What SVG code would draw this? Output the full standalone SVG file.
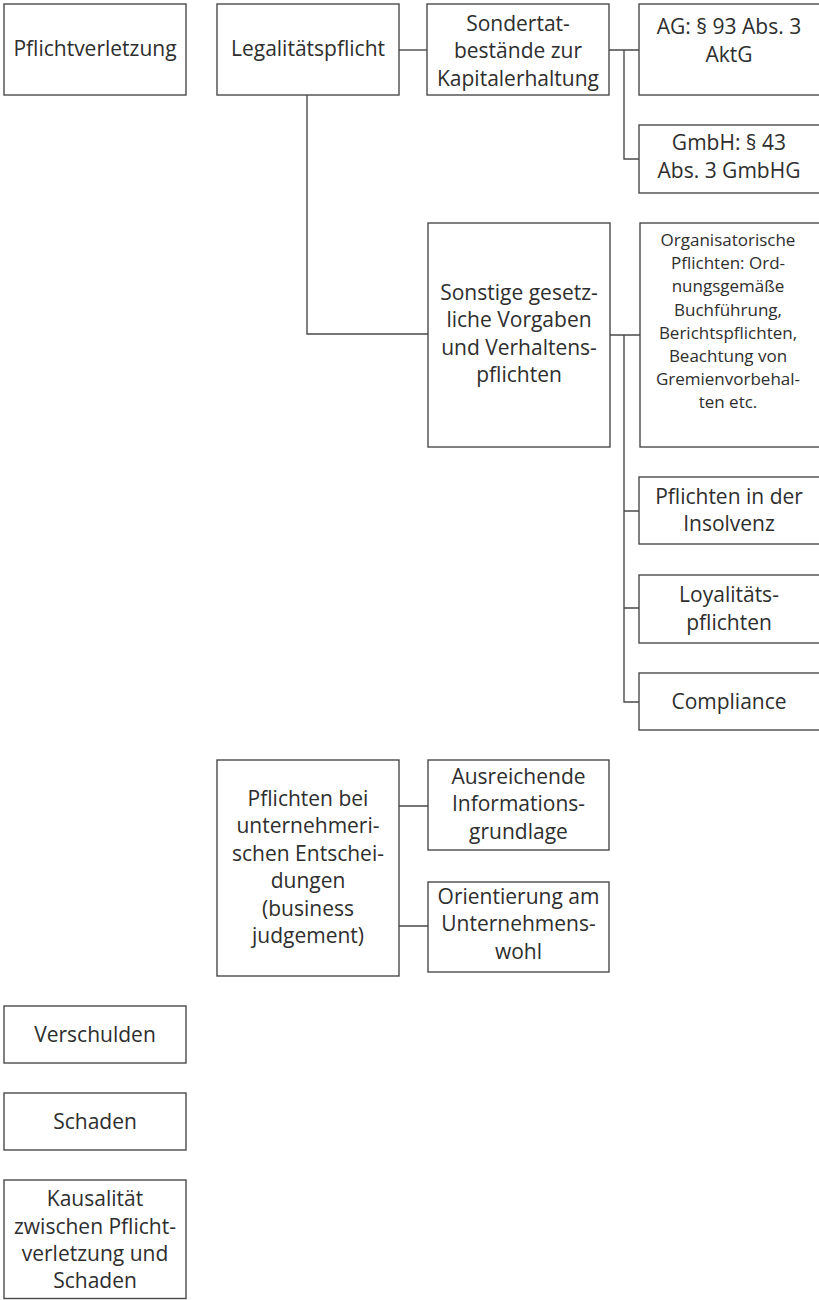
<svg xmlns="http://www.w3.org/2000/svg" width="819" height="1300" viewBox="0 0 819 1300">
<style>
.box{fill:#fff;stroke:#4a4a4a;stroke-width:1.4}
.t{font-family:"Open Sans","Noto Sans","Liberation Sans",sans-serif;font-size:21px;fill:#2e2e2e;text-anchor:middle}
.s{font-size:17px}
.c{fill:none;stroke:#4a4a4a;stroke-width:1.4}
</style>
<rect width="819" height="1300" fill="#fff"/>
<g id="connectors">
<path class="c" d="M399 50H427"/>
<path class="c" d="M609 50H639M624 50V159H639"/>
<path class="c" d="M307 95V334H428"/>
<path class="c" d="M610 335H640M624 335V702H639M624 511H639M624 608H639"/>
<path class="c" d="M399 806H428M399 926H428"/>
</g>
<g id="pflichtverletzung"><rect class="box" x="4" y="4" width="182" height="91"/><text class="t" x="95" y="56">Pflichtverletzung</text></g>
<g id="legalitaetspflicht"><rect class="box" x="217" y="4" width="182" height="91"/><text class="t" x="308" y="56">Legalitätspflicht</text></g>
<g id="sondertat"><rect class="box" x="427" y="4" width="182" height="91"/><text class="t" x="518"><tspan x="518" y="30.5">Sondertat-</tspan><tspan x="518" y="58">bestände zur</tspan><tspan x="518" y="85.5">Kapitalerhaltung</tspan></text></g>
<g id="ag"><rect class="box" x="639" y="4" width="182" height="91"/><text class="t"><tspan x="729" y="33.5">AG: § 93 Abs. 3</tspan><tspan x="729" y="61.5">AktG</tspan></text></g>
<g id="gmbh"><rect class="box" x="639" y="125" width="182" height="68"/><text class="t"><tspan x="729" y="150">GmbH: § 43</tspan><tspan x="729" y="177.5">Abs. 3 GmbHG</tspan></text></g>
<g id="sonstige"><rect class="box" x="428" y="223" width="182" height="224"/><text class="t"><tspan x="519" y="299.5">Sonstige gesetz-</tspan><tspan x="519" y="327">liche Vorgaben</tspan><tspan x="519" y="354.5">und Verhaltens-</tspan><tspan x="519" y="382">pflichten</tspan></text></g>
<g id="organisatorisch"><rect class="box" x="640" y="223" width="181" height="224"/><text class="t s"><tspan x="728" y="246">Organisatorische</tspan><tspan x="728" y="269.2">Pflichten: Ord-</tspan><tspan x="728" y="292.4">nungsgemäße</tspan><tspan x="728" y="315.6">Buchführung,</tspan><tspan x="728" y="338.8">Berichtspflichten,</tspan><tspan x="728" y="362">Beachtung von</tspan><tspan x="728" y="385.2">Gremienvorbehal-</tspan><tspan x="728" y="408.4">ten etc.</tspan></text></g>
<g id="insolvenz"><rect class="box" x="639" y="477" width="182" height="67"/><text class="t"><tspan x="729" y="503.5">Pflichten in der</tspan><tspan x="729" y="531">Insolvenz</tspan></text></g>
<g id="loyalitaet"><rect class="box" x="639" y="575" width="182" height="68"/><text class="t"><tspan x="729" y="602">Loyalitäts-</tspan><tspan x="729" y="629.5">pflichten</tspan></text></g>
<g id="compliance"><rect class="box" x="639" y="673" width="182" height="57"/><text class="t" x="729" y="708.5">Compliance</text></g>
<g id="business"><rect class="box" x="217" y="760" width="182" height="216"/><text class="t"><tspan x="308" y="805.5">Pflichten bei</tspan><tspan x="308" y="833">unternehmeri-</tspan><tspan x="308" y="860.5">schen Entschei-</tspan><tspan x="308" y="888">dungen</tspan><tspan x="308" y="915.5">(business</tspan><tspan x="308" y="943">judgement)</tspan></text></g>
<g id="informationsgrundlage"><rect class="box" x="428" y="760" width="181" height="90"/><text class="t"><tspan x="518.5" y="783.5">Ausreichende</tspan><tspan x="518.5" y="811">Informations-</tspan><tspan x="518.5" y="838.5">grundlage</tspan></text></g>
<g id="unternehmenswohl"><rect class="box" x="428" y="882" width="181" height="90"/><text class="t"><tspan x="518.5" y="903.5">Orientierung am</tspan><tspan x="518.5" y="931">Unternehmens-</tspan><tspan x="518.5" y="958.5">wohl</tspan></text></g>
<g id="verschulden"><rect class="box" x="4" y="1006" width="182" height="57"/><text class="t" x="95" y="1041.5">Verschulden</text></g>
<g id="schaden"><rect class="box" x="4" y="1093" width="182" height="57"/><text class="t" x="95" y="1128.5">Schaden</text></g>
<g id="kausalitaet"><rect class="box" x="4" y="1180" width="182" height="118.5"/><text class="t"><tspan x="95" y="1206">Kausalität</tspan><tspan x="95" y="1233.5">zwischen Pflicht-</tspan><tspan x="95" y="1261">verletzung und</tspan><tspan x="95" y="1288">Schaden</tspan></text></g>
</svg>
